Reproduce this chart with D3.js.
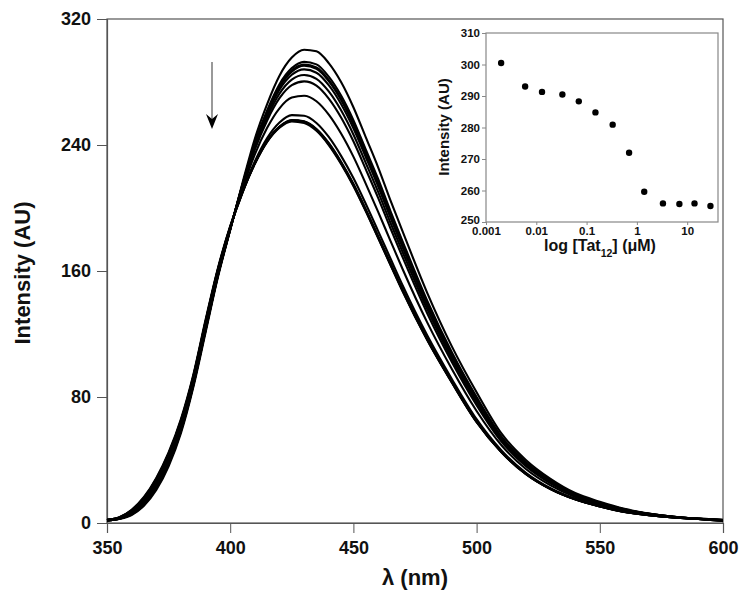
<!DOCTYPE html>
<html>
<head>
<meta charset="utf-8">
<script src="https://cdn.jsdelivr.net/npm/d3@7/dist/d3.min.js"></script>
<style>
  html, body { margin: 0; padding: 0; background: #fff; }
  svg { display: block; font-family: "Liberation Sans", Arial, Helvetica, sans-serif; }
</style>
</head>
<body>
<svg id="chart" width="750" height="616"></svg>
<script>
// ---------------- data ----------------
const wavelengths = [350,355,360,365,370,375,380,385,390,395,400,405,410,415,420,425,430,435,440,445,450,455,460,465,470,480,490,500,510,520,530,540,550,560,570,580,590,600];

const spec01 = [1.5,2.5,5,11,21,36,57,86,121,156,186,216,244,266,284,295.5,300.5,299.5,292,280,264,245,226,205,185,146,112,83,57,40,28,19,13.5,9,6,4,2.8,2];
const spec02 = [1.6,2.7,5.5,11.8,22.2,37.3,58.3,87.2,122.2,156.8,186.3,215,241.4,262,278.6,288.8,292.8,291.2,283.4,271.4,255.8,237.2,218.6,198.2,178.7,141,108.2,79.9,55,38.5,26.9,18.3,13,8.7,5.8,3.9,2.75,1.9];
const spec03 = [1.6,2.7,5.6,12,22.4,37.6,58.6,87.4,122.4,157,186.4,214.8,240.8,261.1,277.3,287.3,291.1,289.2,281.4,269.4,253.9,235.5,216.9,196.7,177.3,139.9,107.3,79.1,54.6,38.2,26.7,18.2,12.9,8.6,5.8,3.9,2.7,1.9];
const spec04 = [1.6,2.7,5.7,12.1,22.5,37.8,58.8,87.5,122.5,157.1,186.4,214.7,240.5,260.7,276.7,286.6,290.3,288.4,280.6,268.6,253,234.7,216.1,196,176.6,139.4,106.9,78.8,54.4,38,26.6,18.1,12.8,8.6,5.8,3.9,2.7,1.9];
const spec05 = [1.6,2.8,5.8,12.3,22.9,38.2,59.2,87.9,122.9,157.3,186.5,214.4,239.7,259.5,275.1,284.6,288,285.9,278,266,250.6,232.4,213.9,194,174.8,137.9,105.8,77.9,53.8,37.6,26.3,17.9,12.7,8.5,5.7,3.9,2.7,1.9];
const spec06 = [1.7,2.9,6,12.7,23.4,38.8,59.8,88.4,123.4,157.7,186.7,213.9,238.5,257.7,272.6,281.5,284.4,282,274,262,246.7,228.7,210.4,190.8,171.9,135.6,104,76.4,52.8,36.9,25.8,17.6,12.5,8.3,5.7,3.8,2.7,1.8];
const spec07 = [1.7,2.9,6.3,13.2,24,39.5,60.5,89,124,158.2,186.9,213.4,237.1,255.6,269.7,278,280.4,277.7,269.5,257.5,242.4,224.7,206.6,187.3,168.6,133,102.1,74.8,51.8,36.1,25.2,17.3,12.2,8.1,5.6,3.8,2.7,1.8];
const spec08 = [1.8,3.1,6.9,14.1,25.4,41,62,90.4,125.4,159.1,187.3,212.2,234,250.9,263.3,270.1,271.3,267.8,259.3,247.3,232.6,215.5,197.7,179.3,161.1,127.2,97.6,71.1,49.5,34.3,23.9,16.5,11.6,7.7,5.4,3.7,2.6,1.7];
const spec09 = [2,3.4,7.7,15.5,27.3,43.2,64.2,92.3,127.3,160.5,187.8,210.6,229.6,244.4,254.3,259,258.6,254,245.1,233.1,219,202.7,185.5,168.1,150.8,119,91.3,65.9,46.2,31.9,22.1,15.4,10.8,7.2,5.1,3.5,2.5,1.6];
const spec10 = [2,3.5,8,15.9,27.9,43.9,64.9,92.9,127.9,160.9,188,210.1,228.3,242.4,251.6,255.7,254.8,249.9,240.9,228.9,214.9,198.8,181.8,164.7,147.7,116.5,89.4,64.3,45.2,31.2,21.6,15.1,10.6,7,5,3.5,2.5,1.5];
const spec11 = [2.1,3.7,8.4,16.5,28.6,44.8,66,94,129,161.8,188.5,210.4,228.5,242.6,251.5,255.6,254.7,249.6,240.4,228.5,214.5,198.4,181.4,164.3,147.4,116.3,89.2,64.2,45.1,31.1,21.6,15,10.5,7,5,3.5,2.5,1.5];
const spec12 = [1.9,3.3,7.6,15.4,27.3,43.3,64.2,92.2,127.2,160.4,187.6,209.8,228.2,242.3,251.5,255.8,255,250.2,241.3,229.4,215.4,199.3,182.3,165.2,148.2,116.9,89.7,64.6,45.4,31.4,21.7,15.1,10.6,7.1,5,3.5,2.5,1.5];
const spec13 = [2,3.5,8,16,28,44,65,93,128,161,188,210,228,242,251,255,254,249,240,228,214,198,181,164,147,116,89,64,45,31,21.5,15,10.5,7,5,3.5,2.5,1.5];
const spectra = [spec01,spec02,spec03,spec04,spec05,spec06,spec07,spec08,spec09,spec10,spec11,spec12,spec13];

const mainXTicks = [350,400,450,500,550,600];
const mainYTicks = [0,80,160,240,320];

// inset: peak intensity vs Tat12 concentration
const tatConc = [0.002,0.006,0.013,0.033,0.07,0.15,0.33,0.7,1.4,3.3,7,14,29];
const peakIntensity = [300.5,293.0,291.3,290.5,288.3,284.8,280.9,272.0,259.6,255.9,255.7,255.9,255.1];
const insetXTicks = [0.001,0.01,0.1,1,10];
const insetXTickLabels = ["0.001","0.01","0.1","1","10"];
const insetYTicks = [250,260,270,280,290,300,310];

// ---------------- drawing ----------------
const svg = d3.select("#chart");
const axisColor = "#555";

// main plot area
const M = {left: 107, right: 723, top: 19, bottom: 523};
const x = d3.scaleLinear().domain([350, 600]).range([M.left, M.right]);
const y = d3.scaleLinear().domain([0, 320]).range([M.bottom, M.top]);

svg.append("rect")
  .attr("x", M.left).attr("y", M.top)
  .attr("width", M.right - M.left).attr("height", M.bottom - M.top)
  .attr("fill", "none").attr("stroke", axisColor).attr("stroke-width", 1.2);

const xAxis = d3.axisBottom(x).tickValues(mainXTicks).tickSize(10).tickPadding(8).tickFormat(d3.format("d"));
const gx = svg.append("g").attr("transform", `translate(0,${M.bottom})`).call(xAxis);
gx.select(".domain").attr("stroke", axisColor).attr("stroke-width", 1.2);
gx.selectAll(".tick line").attr("stroke", axisColor);
gx.selectAll(".tick text").attr("font-size", 18).attr("font-weight", "bold")
  .attr("font-family", "'Liberation Sans', Arial, sans-serif").attr("fill", "#111");

const yAxis = d3.axisLeft(y).tickValues(mainYTicks).tickSize(10).tickPadding(6).tickFormat(d3.format("d"));
const gy = svg.append("g").attr("transform", `translate(${M.left},0)`).call(yAxis);
gy.select(".domain").attr("stroke", axisColor).attr("stroke-width", 1.2);
gy.selectAll(".tick line").attr("stroke", axisColor);
gy.selectAll(".tick text").attr("font-size", 18).attr("font-weight", "bold")
  .attr("font-family", "'Liberation Sans', Arial, sans-serif").attr("fill", "#111");

svg.append("text")
  .attr("transform", `translate(30,273) rotate(-90)`)
  .attr("text-anchor", "middle")
  .attr("font-size", 22).attr("font-weight", "bold").attr("fill", "#111")
  .text("Intensity (AU)");

svg.append("text")
  .attr("x", (M.left + M.right) / 2).attr("y", 585)
  .attr("text-anchor", "middle")
  .attr("font-size", 22).attr("font-weight", "bold").attr("fill", "#111")
  .text("λ (nm)");

// spectra
const line = d3.line()
  .x((d, i) => x(wavelengths[i]))
  .y(d => y(d))
  .curve(d3.curveMonotoneX);

svg.append("g").selectAll("path")
  .data(spectra)
  .join("path")
  .attr("d", d => line(d))
  .attr("fill", "none")
  .attr("stroke", "#000")
  .attr("stroke-width", 2.1);

// arrow
const arrowX = 212;
svg.append("line")
  .attr("x1", arrowX).attr("x2", arrowX)
  .attr("y1", 62).attr("y2", 120)
  .attr("stroke", "#555").attr("stroke-width", 1.2);
svg.append("path")
  .attr("d", `M${arrowX},129 L${arrowX - 6},114 L${arrowX},119 L${arrowX + 6},114 Z`)
  .attr("fill", "#000");

// ---------------- inset ----------------
const I = {left: 486, right: 718, top: 33, bottom: 222};
const xi = d3.scaleLog().domain([0.001, 41]).range([I.left, I.right]);
const yi = d3.scaleLinear().domain([250, 310]).range([I.bottom, I.top]);

svg.append("rect")
  .attr("x", I.left).attr("y", I.top)
  .attr("width", I.right - I.left).attr("height", I.bottom - I.top)
  .attr("fill", "#fff").attr("stroke", "#888").attr("stroke-width", 1.2);

const xiAxis = d3.axisBottom(xi).tickValues(insetXTicks).tickSize(3).tickPadding(2)
  .tickFormat((d, i) => insetXTickLabels[i]);
const gxi = svg.append("g").attr("transform", `translate(0,${I.bottom})`).call(xiAxis);
gxi.select(".domain").remove();
gxi.selectAll(".tick line").attr("stroke", "#888");
gxi.selectAll(".tick text").attr("font-size", 11.5).attr("font-weight", "bold")
  .attr("font-family", "'Liberation Sans', Arial, sans-serif").attr("fill", "#111");

const yiAxis = d3.axisLeft(yi).tickValues(insetYTicks).tickSize(4).tickPadding(2).tickFormat(d3.format("d"));
const gyi = svg.append("g").attr("transform", `translate(${I.left},0)`).call(yiAxis);
gyi.select(".domain").remove();
gyi.selectAll(".tick line").attr("stroke", "#888");
gyi.selectAll(".tick text").attr("font-size", 11.5).attr("font-weight", "bold")
  .attr("font-family", "'Liberation Sans', Arial, sans-serif").attr("fill", "#111");
gyi.selectAll(".tick").filter(d => d === 250).select("text").attr("dy", "0.1em");

svg.append("text")
  .attr("transform", `translate(449,127) rotate(-90)`)
  .attr("text-anchor", "middle")
  .attr("font-size", 15).attr("font-weight", "bold").attr("fill", "#111")
  .text("Intensity (AU)");

const xl = svg.append("text")
  .attr("x", 600).attr("y", 251)
  .attr("text-anchor", "middle")
  .attr("font-size", 16).attr("font-weight", "bold").attr("fill", "#111");
xl.append("tspan").text("log [Tat");
xl.append("tspan").attr("font-size", 10.5).attr("dy", 6).text("12");
xl.append("tspan").attr("dy", -6).text("] (μM)");

svg.append("g").selectAll("circle")
  .data(tatConc)
  .join("circle")
  .attr("cx", d => xi(d))
  .attr("cy", (d, i) => yi(peakIntensity[i]))
  .attr("r", 3.2)
  .attr("fill", "#000");
</script>
</body>
</html>
